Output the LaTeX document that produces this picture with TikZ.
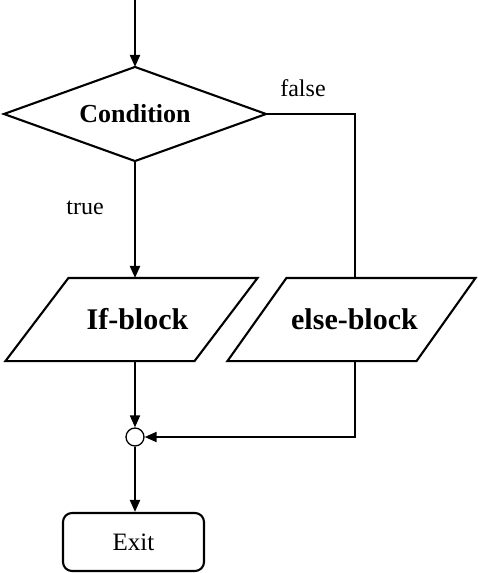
\documentclass[tikz,border=0pt]{standalone}
\usepackage{fontspec}
\setmainfont{Liberation Serif}
\usetikzlibrary{arrows.meta}
\begin{document}
\begin{tikzpicture}[x=1pt,y=1pt,
  line width=2.1pt,
  arr/.style={-{Triangle[length=12pt,width=10pt]}},
  decision/.style={rectangle,draw=none,inner sep=0pt,minimum width=260pt,minimum height=92pt,font=\fontsize{26}{28}\selectfont\bfseries},
  io/.style={rectangle,draw=none,minimum width=187pt,minimum height=81pt,inner sep=0pt,font=\fontsize{30}{32}\selectfont\bfseries},
  junction/.style={circle,draw,fill=white,minimum size=18pt,inner sep=0pt,line width=1.3pt},
  term/.style={rectangle,rounded corners=9pt,draw,minimum width=141pt,minimum height=58pt,font=\fontsize{25}{27}\selectfont},
  lbl/.style={font=\fontsize{24}{26}\selectfont,inner sep=0pt}]
\useasboundingbox (0,0) rectangle (478,-573);
\coordinate (start) at (135,0);
\node[decision] (cond) at (135,-114) {Condition};
\draw (cond.north) -- (cond.east) -- (cond.south) -- (cond.west) -- cycle;
\node[io] (ifb) at (131.5,-319.5) {\hspace{12pt}If-block};
\node[io] (els) at (351.5,-319.5) {\hspace{6pt}else-block};
\draw ([xshift=31.5pt]ifb.north west) -- ([xshift=31.5pt]ifb.north east)
  -- ([xshift=-31.5pt]ifb.south east) -- ([xshift=-31.5pt]ifb.south west) -- cycle;
\draw ([xshift=29.5pt]els.north west) -- ([xshift=29.5pt]els.north east)
  -- ([xshift=-29.5pt]els.south east) -- ([xshift=-29.5pt]els.south west) -- cycle;
\node[junction] (j) at (135,-437) {};
\node[term] (exit) at (133.5,-542) {Exit};
\coordinate (fc) at (355,-114);
\node[lbl] (f) at (303,-88) {false};
\node[lbl] (t) at (85,-208) {true};
\draw[arr] (start) -- (cond.north);
\draw[arr] (cond.south) -- (cond.south |- ifb.north);
\draw (cond.east) -- (fc) -- (fc |- els.north);
\draw[arr] (j.north |- ifb.south) -- (j.north);
\draw[arr] (fc |- els.south) |- (j.east);
\draw[arr] (j.south) -- (exit.north -| j.south);
\end{tikzpicture}
\end{document}
